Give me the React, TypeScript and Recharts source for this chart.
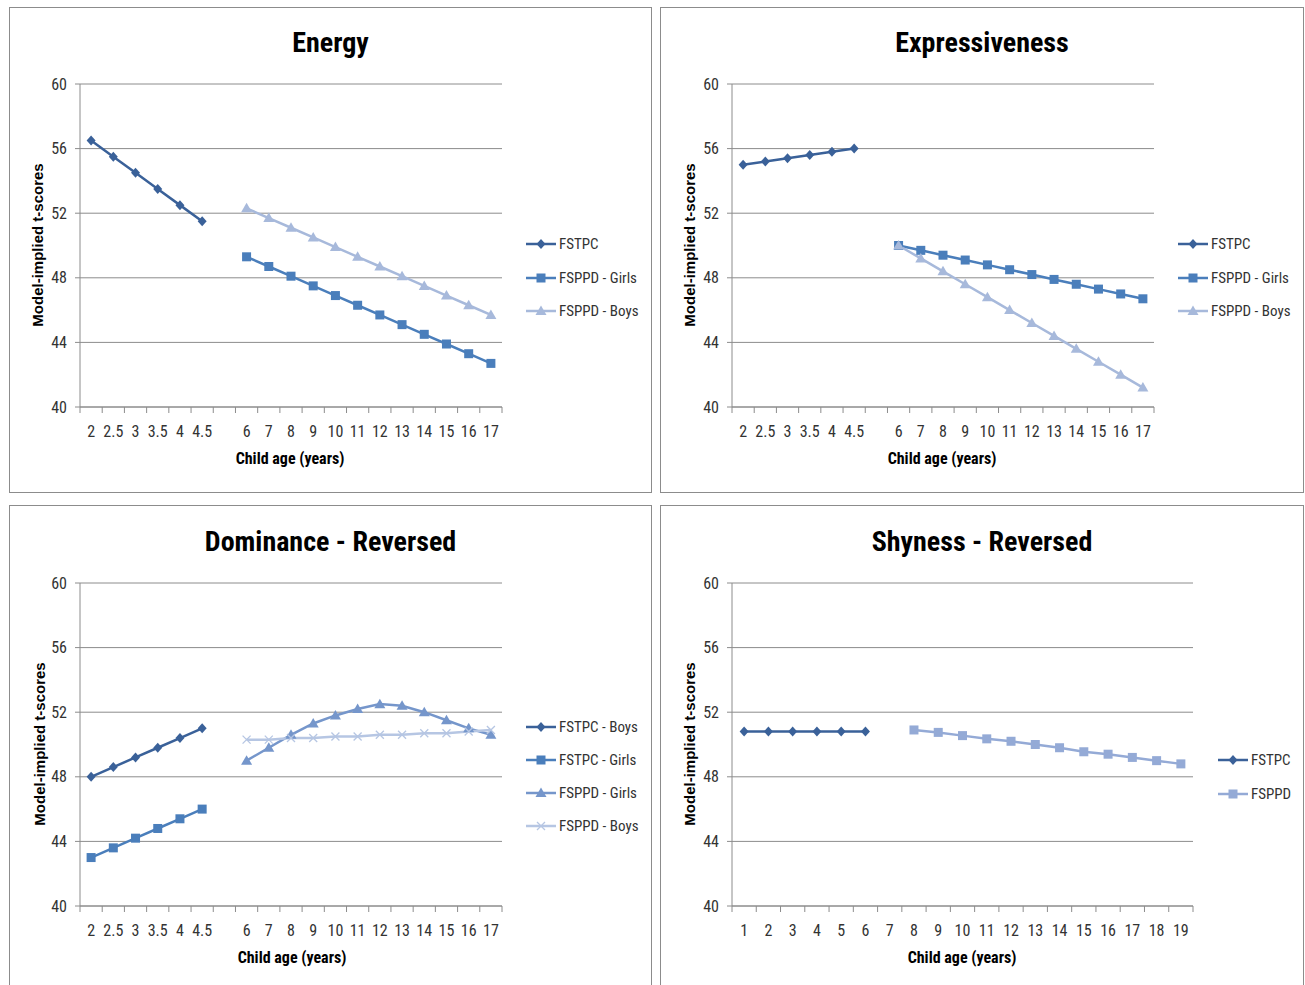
import React from 'react';
import { LineChart, Line, XAxis, YAxis, CartesianGrid, Legend } from 'recharts';

const N = null;

// Category labels
const ageLabels = ['2', '2.5', '3', '3.5', '4', '4.5', '', '6', '7', '8', '9', '10', '11', '12', '13', '14', '15', '16', '17'];
const shyLabels = ['1', '2', '3', '4', '5', '6', '7', '8', '9', '10', '11', '12', '13', '14', '15', '16', '17', '18', '19'];
const yTicks = [40, 44, 48, 52, 56, 60];

// Energy
const energyFSTPC = [56.5, 55.5, 54.5, 53.5, 52.5, 51.5, N, N, N, N, N, N, N, N, N, N, N, N, N];
const energyGirls = [N, N, N, N, N, N, N, 49.3, 48.7, 48.1, 47.5, 46.9, 46.3, 45.7, 45.1, 44.5, 43.9, 43.3, 42.7];
const energyBoys = [N, N, N, N, N, N, N, 52.3, 51.7, 51.1, 50.5, 49.9, 49.3, 48.7, 48.1, 47.5, 46.9, 46.3, 45.7];

// Expressiveness
const exprFSTPC = [55.0, 55.2, 55.4, 55.6, 55.8, 56.0, N, N, N, N, N, N, N, N, N, N, N, N, N];
const exprGirls = [N, N, N, N, N, N, N, 50.0, 49.7, 49.4, 49.1, 48.8, 48.5, 48.2, 47.9, 47.6, 47.3, 47.0, 46.7];
const exprBoys = [N, N, N, N, N, N, N, 50.0, 49.2, 48.4, 47.6, 46.8, 46.0, 45.2, 44.4, 43.6, 42.8, 42.0, 41.2];

// Dominance - Reversed
const domFSTPCBoys = [48.0, 48.6, 49.2, 49.8, 50.4, 51.0, N, N, N, N, N, N, N, N, N, N, N, N, N];
const domFSTPCGirls = [43.0, 43.6, 44.2, 44.8, 45.4, 46.0, N, N, N, N, N, N, N, N, N, N, N, N, N];
const domFSPPDGirls = [N, N, N, N, N, N, N, 49.0, 49.8, 50.6, 51.3, 51.8, 52.2, 52.5, 52.4, 52.0, 51.5, 51.0, 50.6];
const domFSPPDBoys = [N, N, N, N, N, N, N, 50.3, 50.3, 50.4, 50.4, 50.5, 50.5, 50.6, 50.6, 50.7, 50.7, 50.8, 50.9];

// Shyness - Reversed
const shyFSTPC = [50.8, 50.8, 50.8, 50.8, 50.8, 50.8, N, N, N, N, N, N, N, N, N, N, N, N, N];
const shyFSPPD = [N, N, N, N, N, N, N, 50.9, 50.75, 50.55, 50.35, 50.2, 50.0, 49.8, 49.55, 49.4, 49.2, 49.0, 48.8];

// Styles
const NARROW = "'Liberation Sans Narrow', 'Arial Narrow', 'Roboto Condensed', Roboto, sans-serif";
const WIDE = "'Liberation Sans', Arial, sans-serif";
const AXIS = '#8c8c8c';
const TEXT = '#333333';
const DARK = '#3a6199';
const MID = '#4a7ebb';
const LIGHT = '#a7b9db';
const DOM_GIRLS = '#7596cb';
const DOM_BOYS = '#b6c6e3';
const SHY_FSPPD = '#94aad6';

type Shape = 'diamond' | 'square' | 'triangle' | 'cross';
type Series = { name: string; values: (number | null)[]; color: string; shape: Shape };

function Marker({ shape, cx, cy, color }: { shape: Shape; cx: number; cy: number; color: string }) {
  if (shape === 'diamond') {
    return <path d={`M${cx},${cy - 5}L${cx + 4.5},${cy}L${cx},${cy + 5}L${cx - 4.5},${cy}Z`} fill={color} />;
  }
  if (shape === 'square') {
    return <rect x={cx - 4.5} y={cy - 4.5} width={9} height={9} fill={color} />;
  }
  if (shape === 'triangle') {
    return <path d={`M${cx},${cy - 5.5}L${cx + 5.5},${cy + 4}L${cx - 5.5},${cy + 4}Z`} fill={color} />;
  }
  return (
    <path
      d={`M${cx - 4},${cy - 4}L${cx + 4},${cy + 4}M${cx - 4},${cy + 4}L${cx + 4},${cy - 4}`}
      stroke={color}
      strokeWidth={1.3}
      fill="none"
    />
  );
}

type PanelCfg = {
  title: string;
  labels: string[];
  series: Series[];
  box: { left: number; top: number; width: number; height: number };
  plot: { left: number; top: number; right: number; bottom: number };
  titleY: number;
  xTitle: { x: number; y: number };
  yTitle: { x: number; y: number };
  legend: { left: number; firstCenter: number; rowH: number };
};

const panels: PanelCfg[] = [
  {
    title: 'Energy',
    labels: ageLabels,
    series: [
      { name: 'FSTPC', values: energyFSTPC, color: DARK, shape: 'diamond' },
      { name: 'FSPPD - Girls', values: energyGirls, color: MID, shape: 'square' },
      { name: 'FSPPD - Boys', values: energyBoys, color: LIGHT, shape: 'triangle' },
    ],
    box: { left: 9, top: 7, width: 643, height: 486 },
    plot: { left: 80, top: 84, right: 502, bottom: 407 },
    titleY: 43,
    xTitle: { x: 290, y: 459 },
    yTitle: { x: 38, y: 245 },
    legend: { left: 525, firstCenter: 244, rowH: 33.5 },
  },
  {
    title: 'Expressiveness',
    labels: ageLabels,
    series: [
      { name: 'FSTPC', values: exprFSTPC, color: DARK, shape: 'diamond' },
      { name: 'FSPPD - Girls', values: exprGirls, color: MID, shape: 'square' },
      { name: 'FSPPD - Boys', values: exprBoys, color: LIGHT, shape: 'triangle' },
    ],
    box: { left: 660, top: 7, width: 644, height: 486 },
    plot: { left: 732, top: 84, right: 1154, bottom: 407 },
    titleY: 43,
    xTitle: { x: 942, y: 459 },
    yTitle: { x: 690, y: 245 },
    legend: { left: 1177, firstCenter: 244, rowH: 33.5 },
  },
  {
    title: 'Dominance - Reversed',
    labels: ageLabels,
    series: [
      { name: 'FSTPC - Boys', values: domFSTPCBoys, color: DARK, shape: 'diamond' },
      { name: 'FSTPC - Girls', values: domFSTPCGirls, color: MID, shape: 'square' },
      { name: 'FSPPD - Girls', values: domFSPPDGirls, color: DOM_GIRLS, shape: 'triangle' },
      { name: 'FSPPD - Boys', values: domFSPPDBoys, color: DOM_BOYS, shape: 'cross' },
    ],
    box: { left: 9, top: 505, width: 643, height: 486 },
    plot: { left: 80, top: 583, right: 502, bottom: 906 },
    titleY: 542,
    xTitle: { x: 292, y: 958 },
    yTitle: { x: 40, y: 744 },
    legend: { left: 525, firstCenter: 727, rowH: 33 },
  },
  {
    title: 'Shyness - Reversed',
    labels: shyLabels,
    series: [
      { name: 'FSTPC', values: shyFSTPC, color: DARK, shape: 'diamond' },
      { name: 'FSPPD', values: shyFSPPD, color: SHY_FSPPD, shape: 'square' },
    ],
    box: { left: 660, top: 505, width: 644, height: 486 },
    plot: { left: 732, top: 583, right: 1193, bottom: 906 },
    titleY: 542,
    xTitle: { x: 962, y: 958 },
    yTitle: { x: 690, y: 744 },
    legend: { left: 1217, firstCenter: 760, rowH: 34 },
  },
];

function Panel({ cfg }: { cfg: PanelCfg }) {
  const { box, plot, labels, series } = cfg;
  const ox = box.left + 1;
  const oy = box.top + 1;
  const w = box.width - 2;
  const h = box.height - 2;
  const n = labels.length;

  const data = labels.map((label, i) => {
    const row: Record<string, number | string | null> = { x: i + 0.5, label };
    series.forEach((s, k) => {
      row['s' + k] = s.values[i];
    });
    return row;
  });

  const xTicks: number[] = [];
  for (let i = 0; i <= n; i++) {
    xTicks.push(i);
    if (i < n) xTicks.push(i + 0.5);
  }

  const XTick = (props: any) => {
    const { x, y, payload } = props;
    const v = payload.value as number;
    if (Number.isInteger(v)) {
      return <line x1={x} x2={x} y1={y} y2={y + 6} stroke={AXIS} strokeWidth={1} />;
    }
    return (
      <text x={x} y={y + 30} textAnchor="middle" fontFamily={NARROW} fontSize={16} fill={TEXT}>
        {labels[Math.floor(v)]}
      </text>
    );
  };

  const legendContent = () => (
    <div style={{ fontFamily: NARROW, fontSize: 15, color: TEXT }}>
      {series.map((s) => (
        <div
          key={s.name}
          style={{ height: cfg.legend.rowH, display: 'flex', alignItems: 'center', whiteSpace: 'nowrap' }}
        >
          <svg width={32} height={16} style={{ display: 'block' }}>
            <line x1={1} x2={31} y1={8} y2={8} stroke={s.color} strokeWidth={2.5} />
            <Marker shape={s.shape} cx={16} cy={8} color={s.color} />
          </svg>
          <span style={{ marginLeft: 2 }}>{s.name}</span>
        </div>
      ))}
    </div>
  );

  return (
    <div
      style={{
        position: 'absolute',
        left: box.left,
        top: box.top,
        width: box.width,
        height: box.height,
        border: `1px solid ${AXIS}`,
        boxSizing: 'border-box',
        background: '#fff',
        overflow: 'hidden',
      }}
    >
      <div style={{ position: 'absolute', left: 0, top: 0 }}>
        <LineChart
          width={w}
          height={h}
          data={data}
          margin={{ top: plot.top - oy, right: ox + w - plot.right, bottom: 0, left: 0 }}
        >
          <CartesianGrid vertical={false} stroke={AXIS} strokeWidth={1} />
          <XAxis
            dataKey="x"
            type="number"
            domain={[0, n]}
            ticks={xTicks}
            interval={0}
            tick={XTick}
            tickLine={false}
            tickSize={0}
            tickMargin={0}
            axisLine={{ stroke: AXIS, strokeWidth: 1 }}
            height={oy + h - plot.bottom}
            allowDataOverflow
          />
          <YAxis
            type="number"
            domain={[40, 60]}
            ticks={yTicks}
            interval={0}
            width={plot.left - ox}
            tickSize={5}
            tickMargin={8}
            axisLine={{ stroke: AXIS, strokeWidth: 1 }}
            tickLine={{ stroke: AXIS, strokeWidth: 1 }}
            tick={{ fontFamily: NARROW, fontSize: 16, fill: TEXT }}
          />
          {series.map((s, k) => (
            <Line
              key={s.name}
              name={s.name}
              dataKey={'s' + k}
              type="linear"
              stroke={s.color}
              strokeWidth={2.5}
              connectNulls={false}
              isAnimationActive={false}
              activeDot={false}
              dot={(p: any) =>
                p.cy == null || p.cx == null ? (
                  <g key={`d${k}-${p.index}`} />
                ) : (
                  <g key={`d${k}-${p.index}`}>
                    <Marker shape={s.shape} cx={p.cx} cy={p.cy} color={s.color} />
                  </g>
                )
              }
            />
          ))}
          <Legend
            layout="vertical"
            align="center"
            verticalAlign="middle"
            content={legendContent}
            wrapperStyle={{
              left: cfg.legend.left - ox,
              top: cfg.legend.firstCenter - cfg.legend.rowH / 2 - oy,
              width: 160,
              height: cfg.legend.rowH * series.length,
            }}
          />
        </LineChart>
      </div>
      <div
        style={{
          position: 'absolute',
          left: 0,
          width: w,
          top: cfg.titleY - oy - 18,
          height: 36,
          lineHeight: '36px',
          textAlign: 'center',
          fontFamily: NARROW,
          fontWeight: 'bold',
          fontSize: 28,
          color: '#000',
        }}
      >
        {cfg.title}
      </div>
      <div
        style={{
          position: 'absolute',
          left: cfg.xTitle.x - ox - 150,
          width: 300,
          top: cfg.xTitle.y - oy - 10,
          height: 20,
          lineHeight: '20px',
          textAlign: 'center',
          fontFamily: NARROW,
          fontWeight: 'bold',
          fontSize: 16,
          color: '#000',
        }}
      >
        Child age (years)
      </div>
      <div
        style={{
          position: 'absolute',
          left: cfg.yTitle.x - ox - 150,
          width: 300,
          top: cfg.yTitle.y - oy - 10,
          height: 20,
          lineHeight: '20px',
          textAlign: 'center',
          fontFamily: WIDE,
          fontWeight: 'bold',
          fontSize: 15,
          color: '#000',
          transform: 'rotate(-90deg)',
        }}
      >
        Model-implied t-scores
      </div>
    </div>
  );
}

export default function App() {
  return (
    <div style={{ position: 'fixed', left: 0, top: 0, width: 1305, height: 985, background: '#fff', overflow: 'hidden' }}>
      {panels.map((p) => (
        <Panel key={p.title} cfg={p} />
      ))}
    </div>
  );
}
